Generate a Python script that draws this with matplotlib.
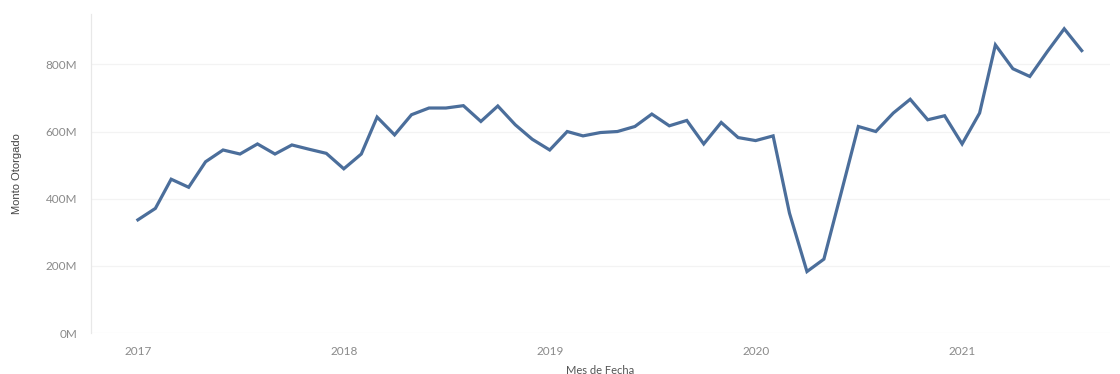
import matplotlib
matplotlib.use('Agg')
import matplotlib.pyplot as plt
import matplotlib.ticker as mticker
import numpy as np
import pandas

# monthly amounts granted, in millions (Jan 2017 - Aug 2021)
meses = pandas.date_range('2017-01-01', '2021-08-01', freq='MS')
monto_2017 = [337, 371, 458, 434, 510, 545, 533, 563, 533, 560, 547, 535]
monto_2018 = [489, 533, 643, 590, 650, 670, 670, 677, 630, 676, 620, 577]
monto_2019 = [545, 600, 587, 597, 600, 615, 652, 617, 633, 563, 627, 582]
monto_2020 = [573, 587, 357, 183, 220, 420, 615, 600, 655, 696, 635, 647]
monto_2021 = [563, 655, 858, 787, 764, 838, 906, 841]
monto = np.array(monto_2017 + monto_2018 + monto_2019 + monto_2020 + monto_2021) * 1e6

ytick_vals = [0, 200e6, 400e6, 600e6, 800e6]
xtick_years = ['2017', '2018', '2019', '2020', '2021']

plt.rcParams['font.family'] = ['Lato', 'DejaVu Sans']

fig = plt.figure(figsize=(11.2, 3.74), dpi=100)
ax = fig.add_axes([0.0813, 0.1096, 0.9097, 0.853])

ax.plot(meses, monto, color='#4b6e9b', linewidth=2.3, solid_joinstyle='miter')

ax.set_ylim(0, 950e6)
ax.set_xlim(pandas.Timestamp('2016-10-10'), pandas.Timestamp('2021-09-20'))

ax.set_yticks(ytick_vals)
ax.yaxis.set_major_formatter(mticker.FuncFormatter(lambda v, p: '{:.0f}M'.format(v / 1e6)))
ax.set_xticks([pandas.Timestamp(y + '-01-01') for y in xtick_years])
ax.set_xticklabels(xtick_years)

ax.tick_params(axis='both', length=0, labelsize=8.5, colors='#8a8a8a')
ax.tick_params(axis='x', pad=9)
ax.tick_params(axis='y', pad=10)

ax.grid(axis='y', color='#f3f3f3', linewidth=0.9)
ax.set_axisbelow(True)
for s in ['top', 'right', 'bottom']:
    ax.spines[s].set_visible(False)
ax.spines['left'].set_color('#e8e8e8')
ax.spines['left'].set_linewidth(0.9)

ax.set_xlabel('Mes de Fecha', fontsize=8, color='#555555', labelpad=6)
ax.set_ylabel('Monto Otorgado', fontsize=8, color='#444444', labelpad=17,
              family=['Liberation Sans Narrow', 'Liberation Sans', 'DejaVu Sans'])

plt.savefig('out.png', dpi=100)
